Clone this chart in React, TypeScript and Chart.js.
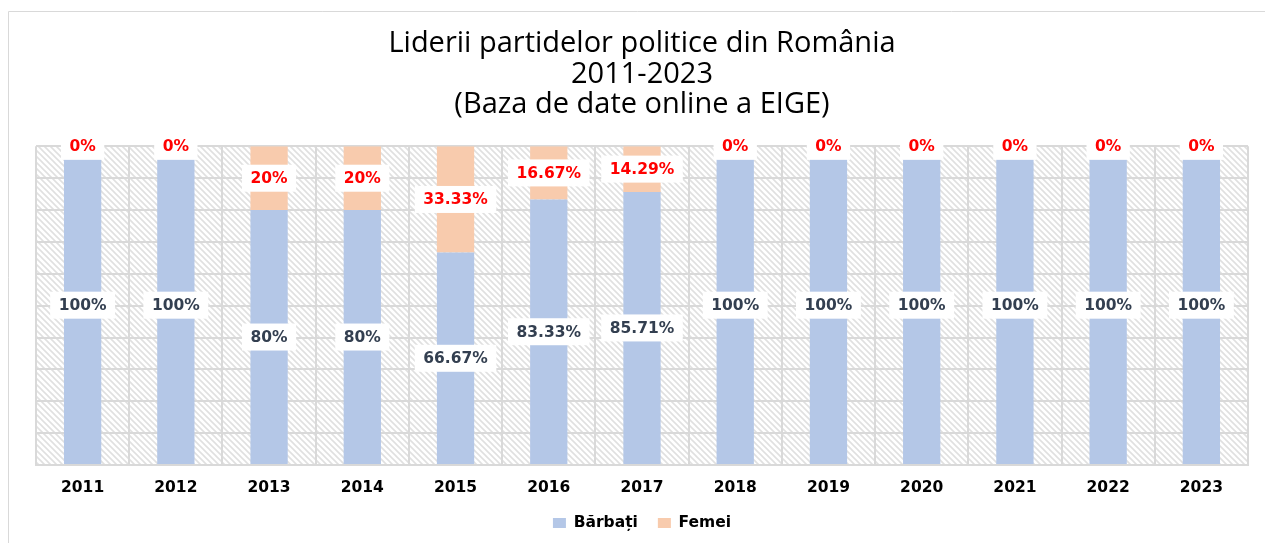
import React, { useEffect, useRef } from "react";
import { Chart, registerables } from "chart.js";

Chart.register(...registerables);

const years = ["2011", "2012", "2013", "2014", "2015", "2016", "2017", "2018", "2019", "2020", "2021", "2022", "2023"];
const barbati = [100, 100, 80, 80, 66.67, 83.33, 85.71, 100, 100, 100, 100, 100, 100];
const femei = [0, 0, 20, 20, 33.33, 16.67, 14.29, 0, 0, 0, 0, 0, 0];
const barbatiLabels = ["100%", "100%", "80%", "80%", "66.67%", "83.33%", "85.71%", "100%", "100%", "100%", "100%", "100%", "100%"];
const femeiLabels = ["0%", "0%", "20%", "20%", "33.33%", "16.67%", "14.29%", "0%", "0%", "0%", "0%", "0%", "0%"];
const titleLines = ["Liderii partidelor politice din România", "2011-2023", "(Baza de date online a EIGE)"];
const seriesNames = ["Bărbați", "Femei"];

const LABEL_FONT = "bold 15.5px 'DejaVu Sans'";

const bgPlugin = {
  id: "bgHatch",
  beforeDraw(chart: any) {
    const { ctx, chartArea: a } = chart;
    ctx.save();
    ctx.strokeStyle = "#d9d9d9";
    ctx.lineWidth = 1;
    ctx.beginPath();
    ctx.moveTo(8.5, 700);
    ctx.lineTo(8.5, 11.5);
    ctx.lineTo(1400, 11.5);
    ctx.stroke();

    const p = document.createElement("canvas");
    p.width = 6;
    p.height = 6;
    const pc = p.getContext("2d") as CanvasRenderingContext2D;
    pc.fillStyle = "#ffffff";
    pc.fillRect(0, 0, 6, 6);
    pc.strokeStyle = "#e0e0e0";
    pc.lineWidth = 1.6;
    pc.beginPath();
    pc.moveTo(-1, -1);
    pc.lineTo(7, 7);
    pc.moveTo(-1, 5);
    pc.lineTo(1, 7);
    pc.moveTo(5, -1);
    pc.lineTo(7, 1);
    pc.stroke();
    const pat = ctx.createPattern(p, "repeat");
    if (pat) {
      ctx.fillStyle = pat;
      ctx.fillRect(a.left, a.top, a.right - a.left, a.bottom - a.top);
    }
    ctx.restore();
  },
};

const labelPlugin = {
  id: "boxLabels",
  afterDatasetsDraw(chart: any) {
    const ctx = chart.ctx;
    ctx.save();
    ctx.font = LABEL_FONT;
    ctx.textAlign = "center";
    ctx.textBaseline = "middle";
    chart.data.datasets.forEach((_ds: any, di: number) => {
      const meta = chart.getDatasetMeta(di);
      const texts = di === 0 ? barbatiLabels : femeiLabels;
      meta.data.forEach((bar: any, i: number) => {
        const { x, y, base } = bar.getProps(["x", "y", "base"], true);
        const cy = (y + base) / 2;
        const t = texts[i];
        const w = ctx.measureText(t).width + 17;
        ctx.fillStyle = "#ffffff";
        ctx.fillRect(x - w / 2, cy - 13.5, w, 27);
        ctx.fillStyle = di === 0 ? "#333F50" : "#FF0000";
        ctx.fillText(t, x, cy + 1);
      });
    });
    ctx.restore();
  },
};

export default function App() {
  const ref = useRef<HTMLCanvasElement | null>(null);

  useEffect(() => {
    if (!ref.current) return;
    const chart = new Chart(ref.current, {
      type: "bar",
      data: {
        labels: years,
        datasets: [
          {
            label: seriesNames[0],
            data: barbati,
            backgroundColor: "#B4C7E7",
            barPercentage: 0.4,
            categoryPercentage: 1.0,
          },
          {
            label: seriesNames[1],
            data: femei,
            backgroundColor: "#F8CBAD",
            barPercentage: 0.4,
            categoryPercentage: 1.0,
          },
        ],
      },
      options: {
        responsive: false,
        animation: false,
        devicePixelRatio: 1,
        layout: { padding: { left: 36, right: 17, top: 29, bottom: 2.25 } },
        plugins: {
          title: {
            display: true,
            text: titleLines,
            color: "#000000",
            font: { family: "'Open Sans'", size: 29, weight: "normal", lineHeight: 1.05 },
            padding: { top: 0, bottom: 26 },
          },
          legend: {
            display: true,
            position: "bottom",
            labels: {
              color: "#000000",
              font: { family: "'DejaVu Sans'", size: 15.5, weight: "bold" },
              boxWidth: 13,
              boxHeight: 10,
              padding: 20,
            },
          },
          tooltip: { enabled: false },
        },
        scales: {
          x: {
            stacked: true,
            grid: { color: "#d9d9d9", lineWidth: 2, drawTicks: false, offset: true },
            border: { display: true, color: "#d9d9d9", width: 2 },
            ticks: {
              color: "#000000",
              font: { family: "'DejaVu Sans'", size: 15.5, weight: "bold" },
              padding: 13.7,
              maxRotation: 0,
            },
            afterFit: (scale: any) => {
              scale.height = 30.25;
            },
          },
          y: {
            stacked: true,
            min: 0,
            max: 100,
            grid: { color: "#d9d9d9", lineWidth: 2, drawTicks: false },
            border: { display: false },
            ticks: { display: false, stepSize: 10 },
          },
        },
      },
      plugins: [bgPlugin, labelPlugin],
    });
    return () => chart.destroy();
  }, []);

  return (
    <canvas
      ref={ref}
      width={1265}
      height={543}
      style={{ position: "fixed", left: 0, top: 0, width: 1265, height: 543, display: "block" }}
    />
  );
}
